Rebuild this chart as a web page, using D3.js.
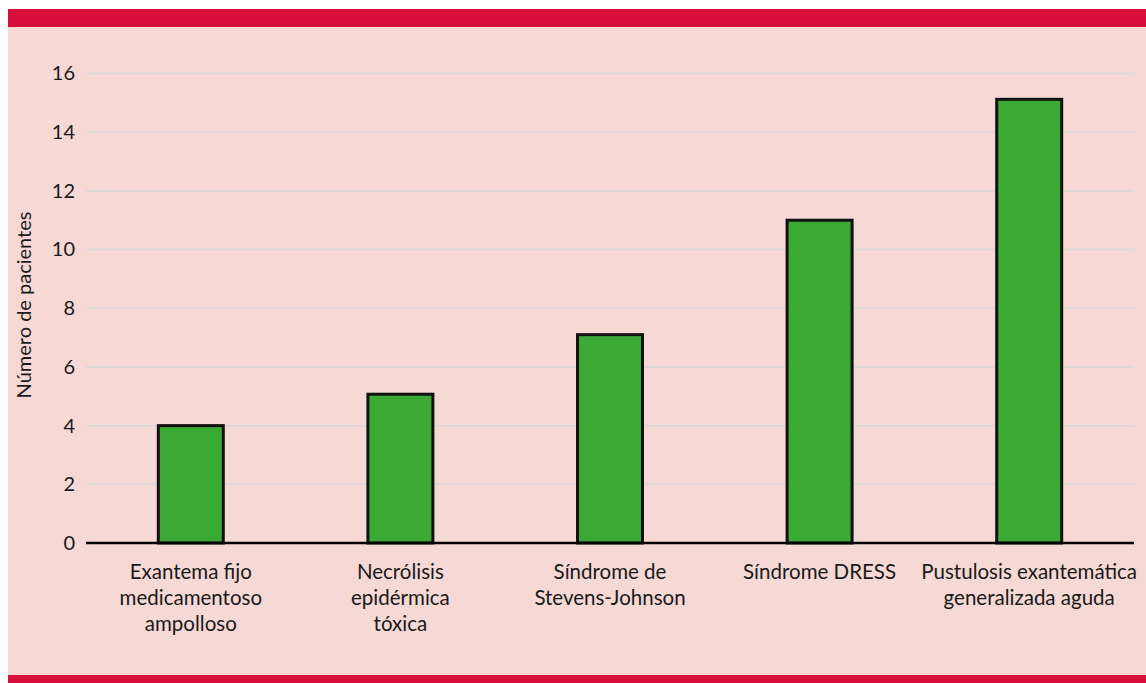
<!DOCTYPE html>
<html><head><meta charset="utf-8">
<script src="https://cdn.jsdelivr.net/npm/d3@7"></script>
<style>html,body{margin:0;padding:0;background:#fff;}svg{display:block;}</style>
</head><body>
<svg id="c" width="1146" height="683"></svg>
<script>
const categories = [
  ["Exantema fijo","medicamentoso","ampolloso"],
  ["Necrólisis","epidérmica","tóxica"],
  ["Síndrome de","Stevens-Johnson"],
  ["Síndrome DRESS"],
  ["Pustulosis exantemática","generalizada aguda"]
];
const values = [4, 5.07, 7.1, 11, 15.12];
const yTicks = [0, 2, 4, 6, 8, 10, 12, 14, 16];
const yLabel = "Número de pacientes";

const svg = d3.select("#c");
const W = 1146, H = 683;
const font = "Lato, 'Open Sans', sans-serif";

svg.append("rect").attr("x",8).attr("y",9).attr("width",W-8).attr("height",H-9).attr("fill","#f6d8d4");
svg.append("rect").attr("x",8).attr("y",9).attr("width",W-8).attr("height",18).attr("fill","#d80f3a");
svg.append("rect").attr("x",8).attr("y",675).attr("width",W-8).attr("height",8).attr("fill","#d80f3a");

const x0 = 86, x1 = 1134, yBase = 543, yTop = 73.5;
const x = d3.scaleBand().domain(d3.range(categories.length)).range([x0, x1]).paddingInner(0.69).paddingOuter(0.345);
const y = d3.scaleLinear().domain([0,16]).range([yBase, yTop]);

const g = svg.append("g");
g.selectAll("line.grid").data(yTicks.filter(t=>t>0)).enter().append("line")
  .attr("x1",x0).attr("x2",x1).attr("y1",d=>y(d)).attr("y2",d=>y(d))
  .attr("stroke","#d9d9d9").attr("stroke-width",1.5);

const yAxis = d3.axisLeft(y).tickValues(yTicks).tickSize(0).tickPadding(11);
const ya = g.append("g").attr("transform",`translate(${x0},0)`).call(yAxis);
ya.select(".domain").remove();
ya.selectAll("text").attr("font-family",font).attr("font-size",20).attr("fill","#1a1a1a");

g.selectAll("rect.bar").data(values).enter().append("rect")
  .attr("x",(d,i)=>x(i)).attr("width",x.bandwidth())
  .attr("y",d=>y(d)).attr("height",d=>yBase-y(d))
  .attr("fill","#3aaa35").attr("stroke","#111").attr("stroke-width",3);

g.append("line").attr("x1",x0).attr("x2",x1).attr("y1",yBase).attr("y2",yBase)
  .attr("stroke","#000").attr("stroke-width",2.5);

categories.forEach((lines,i)=>{
  const cx = x(i) + x.bandwidth()/2;
  const t = g.append("text").attr("text-anchor","middle").attr("font-family",font)
    .attr("font-size",20.5).attr("fill","#1a1a1a");
  lines.forEach((ln,j)=>{
    t.append("tspan").attr("x",cx).attr("y",579 + j*26).text(ln);
  });
});

svg.append("text").attr("transform","translate(31,305) rotate(-90)")
  .attr("text-anchor","middle").attr("font-family",font).attr("font-size",20)
  .attr("fill","#1a1a1a").text(yLabel);
</script>
</body></html>
